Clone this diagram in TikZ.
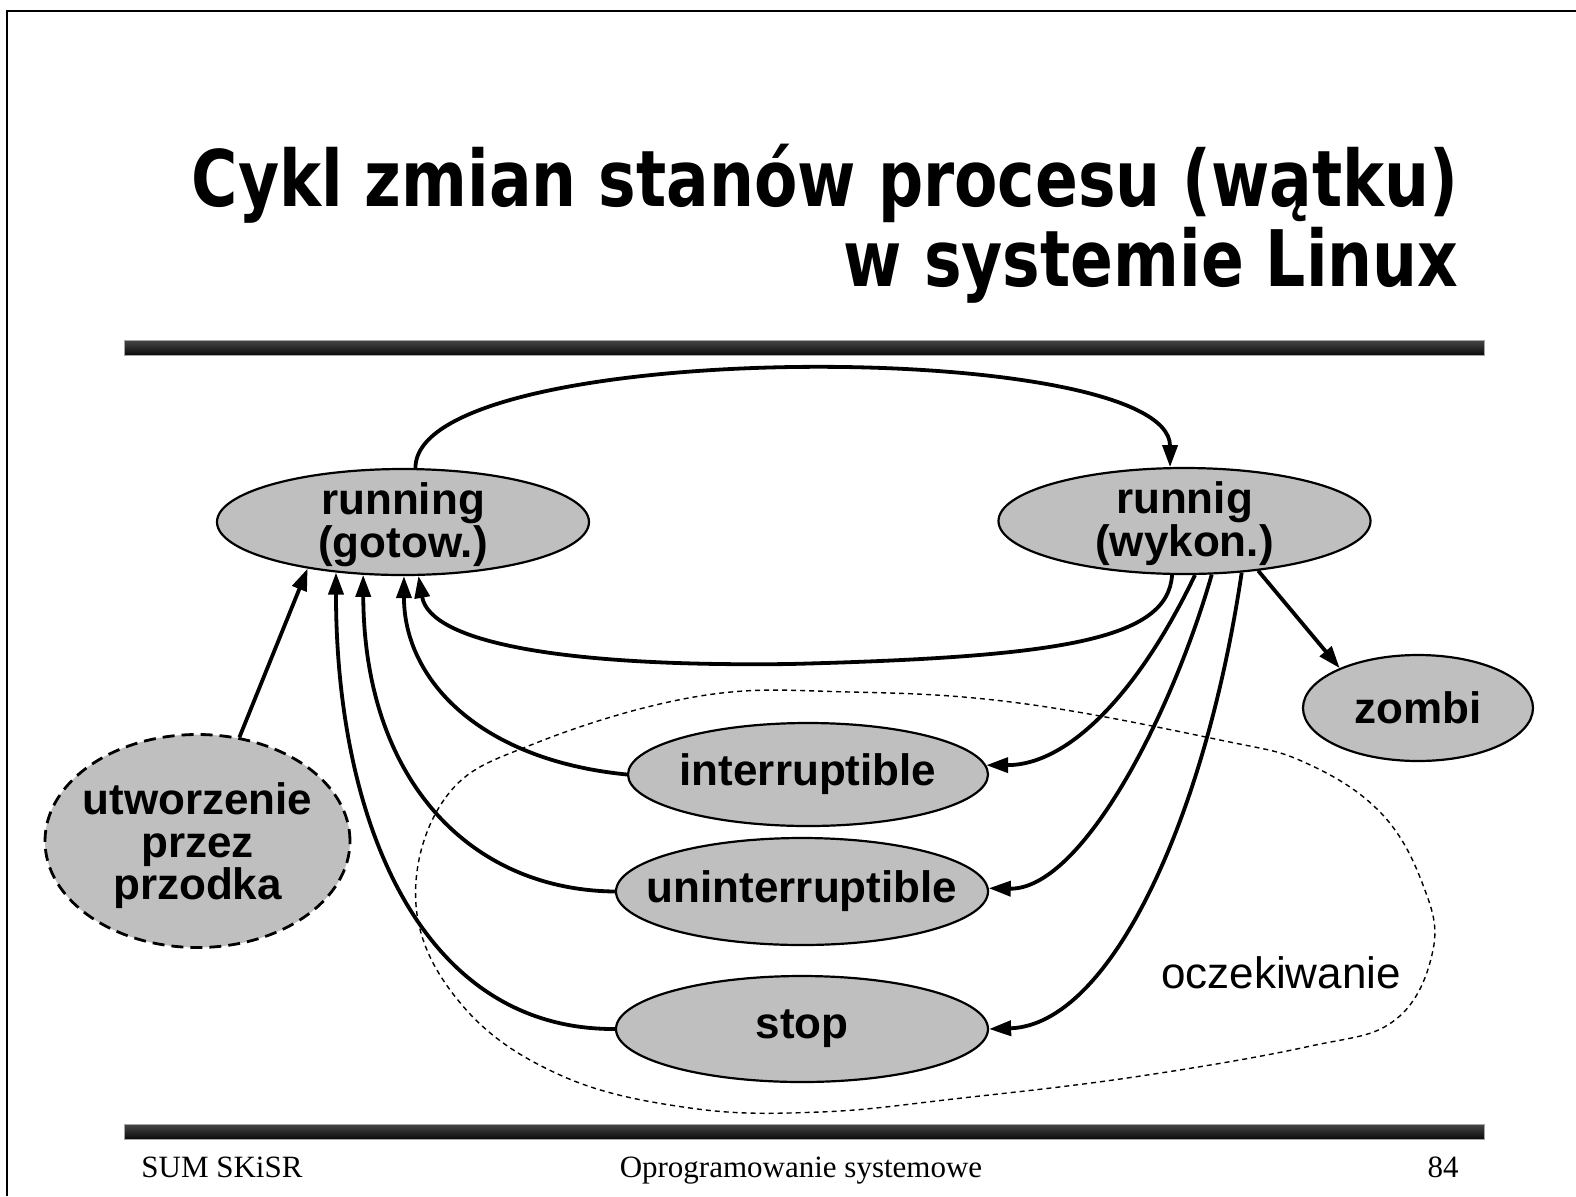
\documentclass[tikz,border=0pt]{standalone}
\usepackage{fontspec}
\usepackage{graphicx}
\usetikzlibrary{shapes.geometric,arrows.meta}
\newfontfamily\titlefont{DejaVu Sans}
\newfontfamily\nodefont{Liberation Sans}
\newfontfamily\footfont{Liberation Serif}
\newcommand{\narrowtitle}[1]{\scalebox{0.81}[1]{#1}}

\tikzset{
  state/.style={ellipse, draw, line width=1.1pt, fill=black!25, inner sep=0pt},
  newstate/.style={state, dash pattern=on 6pt off 3.5pt, line width=1.4pt},
  statetext/.style={font=\nodefont\bfseries\fontsize{22}{20}\selectfont, align=center, inner sep=0pt},
  trans/.style={line width=1.9pt, -{Triangle[length=11pt,width=7.5pt]}},
  link/.style={line width=1.9pt},
  blob/.style={line width=0.7pt, dash pattern=on 2.5pt off 2pt},
  bar/.style={top color=black!72, bottom color=black!96, draw=black!35, line width=0.5pt},
  footer/.style={font=\footfont\fontsize{15.5}{18}\selectfont, inner sep=0pt},
  heading/.style={font=\titlefont\bfseries\fontsize{39}{44}\selectfont, inner sep=0pt, anchor=base east},
}

\begin{document}
\begin{tikzpicture}[x=0.5pt, y=-0.5pt]
  \useasboundingbox (0,0) rectangle (1576,1196);
  % page frame and rules
  \draw[line width=1.1pt] (7,1196) -- (7,11) -- (1576,11);
  \shade[bar] (124,340) rectangle (1484,355);
  \shade[bar] (124,1124) rectangle (1484,1139);

  % heading
  \node[heading] (title1) at (1459,206) {\narrowtitle{Cykl zmian stanów procesu (wątku)}};
  \node[heading] (title2) at (1459,286) {\narrowtitle{w systemie Linux}};

  % waiting group outline
  \draw[blob] plot[smooth cycle, tension=0.65] coordinates {
    (416,905) (446,797) (536,743) (700,696) (850,692) (1019,703) (1220,740)
    (1306,763) (1381,813) (1423,885) (1433,950) (1395,1020) (1306,1047)
    (1134,1077) (962,1098) (820,1112) (690,1108) (560,1075) (462,1005)};
  \node[font=\nodefont\fontsize{22}{20}\selectfont, anchor=base, inner sep=0pt] (waiting) at (1281,988) {oczekiwanie};

  % states
  \node[state, minimum width=186pt, minimum height=53pt] (running) at (403,522) {};
  \node[statetext] (running-t) at (403,525) {running\\(gotow.)};
  \node[state, minimum width=186pt, minimum height=53pt] (runnig) at (1184.5,521) {};
  \node[statetext] (runnig-t) at (1184.5,524) {runnig\\(wykon.)};
  \node[state, minimum width=115pt, minimum height=53pt] (zombi) at (1418,708) {};
  \node[statetext] (zombi-t) at (1418,708) {zombi};
  \node[newstate, minimum width=152.5pt, minimum height=106.5pt] (create) at (197.5,841) {};
  \node[statetext, font=\nodefont\bfseries\fontsize{22}{21.25}\selectfont] (create-t) at (197.5,846) {utworzenie\\przez\\przodka};
  \node[state, minimum width=180pt, minimum height=51.5pt] (intr) at (808,774.5) {};
  \node[statetext] (intr-t) at (808,774.5) {interruptible};
  \node[state, minimum width=186pt, minimum height=53.5pt] (unintr) at (802,891.5) {};
  \node[statetext] (unintr-t) at (802,891.5) {uninterruptible};
  \node[state, minimum width=186pt, minimum height=53pt] (stop) at (802,1029) {};
  \node[statetext] (stop-t) at (802,1029) {stop};

  % transitions
  \draw[trans] (running.77) .. controls (415,337) and (1170,337) .. (runnig.105);
  \draw[link] (runnig.-103) .. controls (1168,640) and (1060,657) .. (790,664);
  \draw[trans] (790,664) .. controls (560,667) and (430,642) .. (running.-74);
  \draw[trans] (create.68) -- (running.-154);
  \draw[trans] (intr.west) .. controls (480,760) and (404,680) .. (running.-89);
  \draw[trans] (unintr.west) .. controls (470,890) and (364,780) .. (running.-127);
  \draw[trans] (stop.west) .. controls (420,1030) and (336,820) .. (running.-143);
  \draw[trans] (runnig.-79) .. controls (1140,690) and (1070,765) .. (intr.3);
  \draw[trans] (runnig.-63) .. controls (1170,720) and (1080,890) .. (unintr.1);
  \draw[trans] (runnig.-42) .. controls (1205,820) and (1110,1025) .. (stop.0);
  \draw[trans] (runnig.-34) -- (zombi.153);

  % footer
  \node[footer, anchor=base west] (foot-l) at (141,1177) {SUM SKiSR};
  \node[footer, anchor=base] (foot-c) at (801,1177) {Oprogramowanie systemowe};
  \node[footer, anchor=base east] (foot-r) at (1459,1177) {84};
\end{tikzpicture}
\end{document}
